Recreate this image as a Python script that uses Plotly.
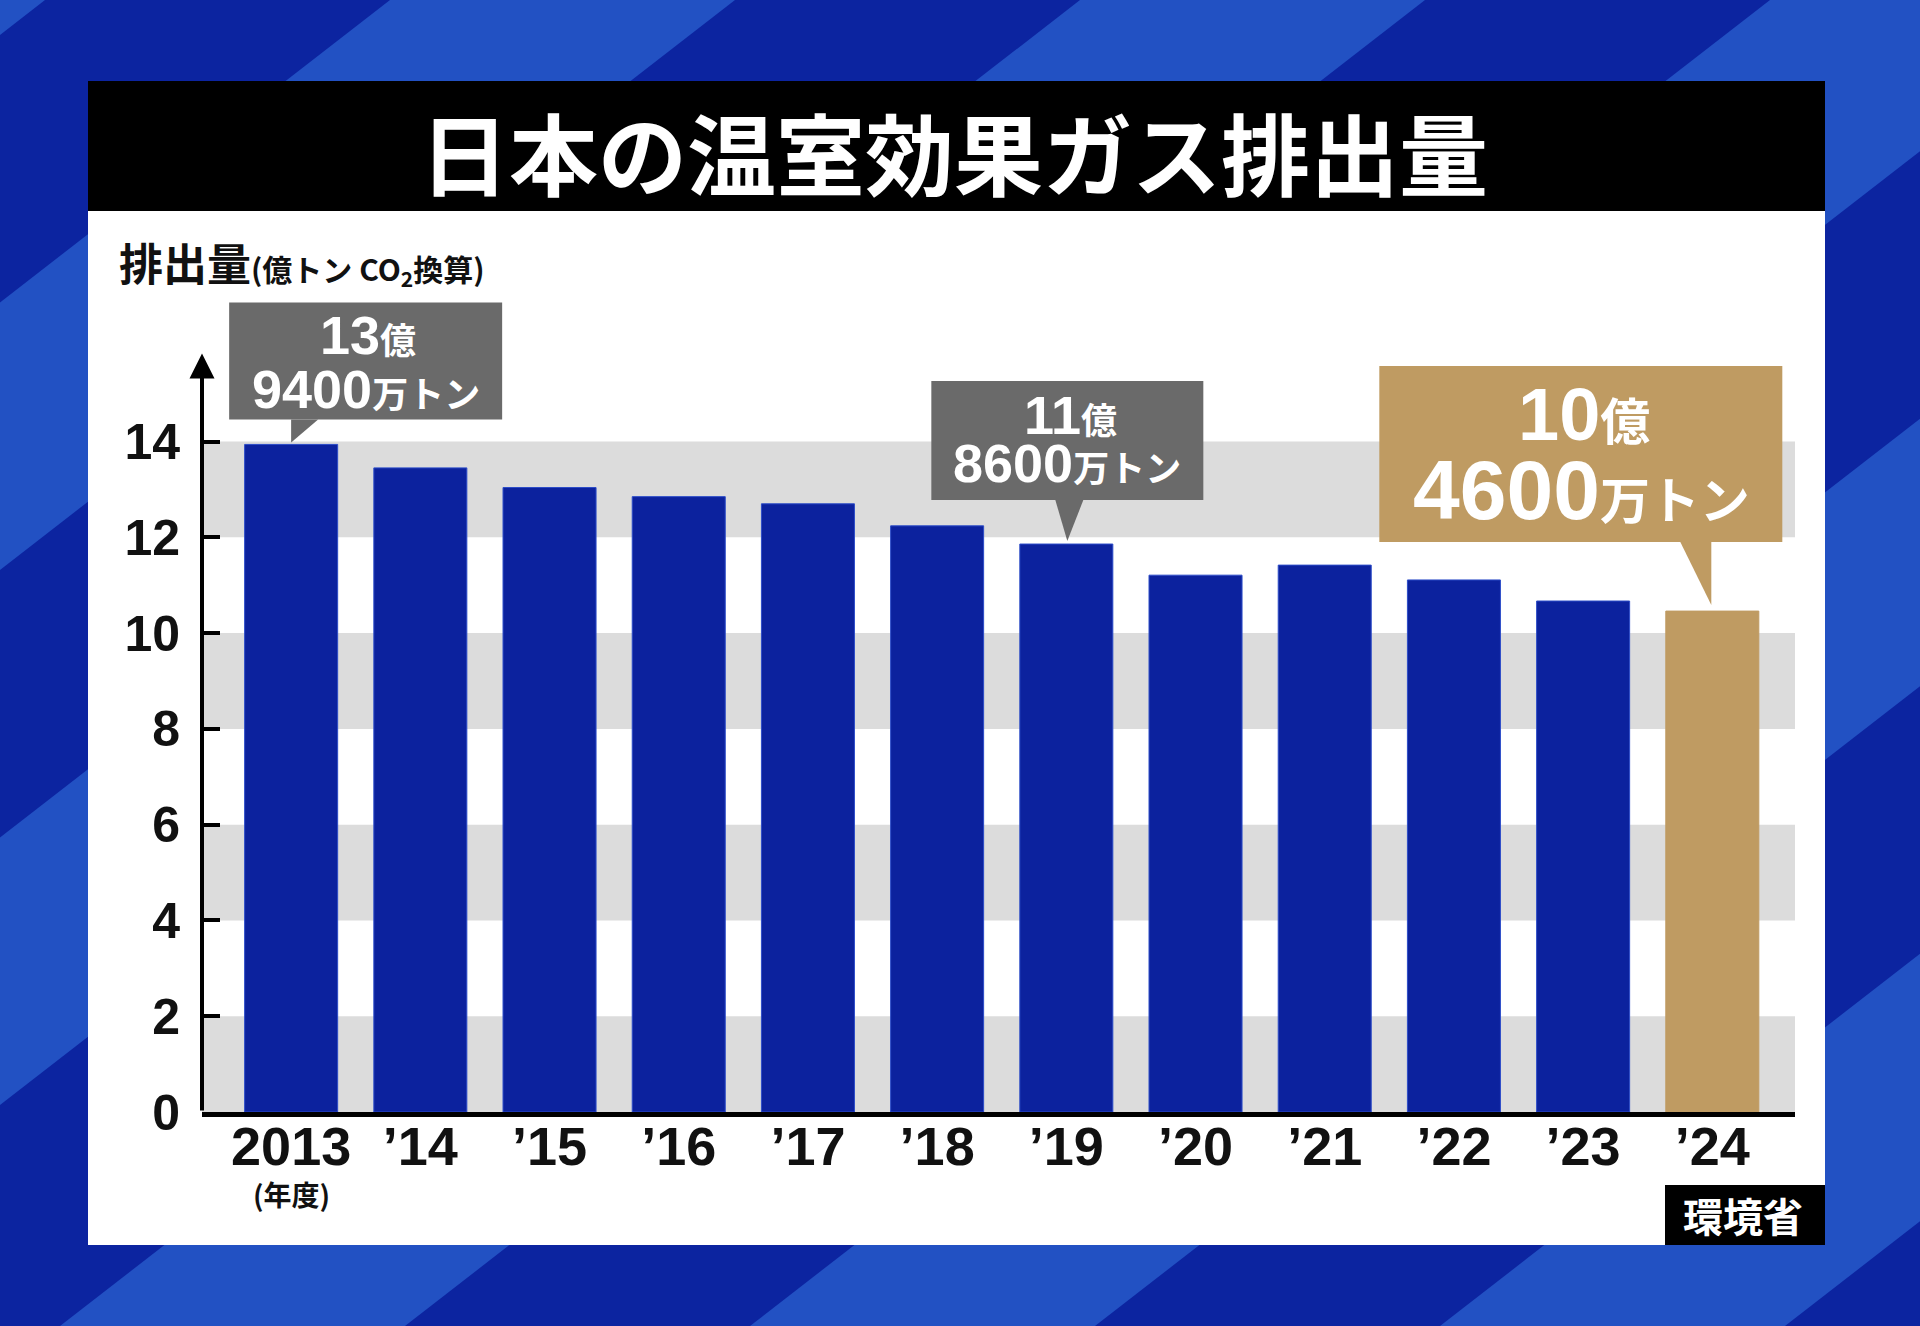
import plotly.graph_objects as go

# 日本の温室効果ガス排出量 (億トン CO2換算), 環境省
years = [2013, 2014, 2015, 2016, 2017, 2018, 2019, 2020, 2021, 2022, 2023, 2024]
emissions = [13.94, 13.45, 13.04, 12.85, 12.70, 12.24, 11.86, 11.21, 11.42, 11.11, 10.67, 10.46]
tick_text = ["2013", "’14", "’15", "’16", "’17", "’18", "’19", "’20", "’21", "’22", "’23", "’24"]
y_ticks = [0, 2, 4, 6, 8, 10, 12, 14]

callout_years = [2013, 2019, 2024]
callout_oku = ["13", "11", "10"]
callout_man = ["9400", "8600", "4600"]

W, H = 1920, 1326
FONT = "Liberation Sans, Noto Sans CJK JP"
JP = "Noto Sans CJK JP"
BLUE = "#0c229e"
GOLD = "#bf9b62"
GRAY = "#6a6a6a"
DARK_BG = "#0c24a0"
LIGHT_BG = "#2251c3"


def px(x):
    return x / W


def py(y):
    return 1 - y / H


shapes = []

# diagonal background stripes
period = 345
shift = 1710
x_top0 = 45
for k in range(-3, 16, 2):
    a = x_top0 + period * k
    b = a + period
    path = "M{},{} L{},{} L{},{} L{},{} Z".format(
        px(a), 1, px(b), 1, px(b - shift), 0, px(a - shift), 0)
    shapes.append(dict(type="path", path=path, xref="paper", yref="paper",
                       fillcolor=LIGHT_BG, line=dict(width=0), layer="below"))

# white panel, title bar, source box
shapes.append(dict(type="rect", xref="paper", yref="paper", x0=px(88), x1=px(1825),
                   y0=py(1245), y1=py(81), fillcolor="white", line=dict(width=0), layer="below"))
shapes.append(dict(type="rect", xref="paper", yref="paper", x0=px(88), x1=px(1825),
                   y0=py(211), y1=py(81), fillcolor="black", line=dict(width=0), layer="below"))
shapes.append(dict(type="rect", xref="paper", yref="paper", x0=px(1665), x1=px(1825),
                   y0=py(1245), y1=py(1185), fillcolor="black", line=dict(width=0), layer="above"))

# alternating gray bands
for t in y_ticks[::2]:
    shapes.append(dict(type="rect", xref="x domain", yref="y", x0=0, x1=1, y0=t, y1=t + 2,
                       fillcolor="#dcdcdc", line=dict(width=0), layer="below"))

# callout boxes (pixel offsets from bar top)
callout_style = [
    dict(box=(-62, 211, 25, 142), tri=[(0, 25), (27, 25), (0, 2)], color=GRAY,
         big=(54, 54), small=36, l1=(77, 109), l2=(75, 55)),
    dict(box=(-135, 137, 44, 163), tri=[(-11, 44), (17, 44), (1, 3)], color=GRAY,
         big=(54, 54), small=36, l1=(4, 129), l2=(1, 81)),
    dict(box=(-333, 70, 69, 245), tri=[(-32, 69), (-1, 69), (-1, 6)], color=GOLD,
         big=(74, 84), small=50, l1=(-128, 197), l2=(-131, 121)),
]

fig = go.Figure()
fig.add_trace(go.Bar(
    x=years, y=emissions, width=0.72,
    marker=dict(color=[BLUE] * (len(years) - 1) + [GOLD],
                line=dict(color=["#2c4cc8"] * (len(years) - 1) + [GOLD], width=1)),
    hoverinfo="x+y",
))

annotations = []
for yr, oku, man, st in zip(callout_years, callout_oku, callout_man, callout_style):
    val = emissions[years.index(yr)]
    x0, x1, y0, y1 = st["box"]
    shapes.append(dict(type="rect", xref="x", yref="y", xsizemode="pixel", ysizemode="pixel",
                       xanchor=yr, yanchor=val, x0=x0, x1=x1, y0=y0, y1=y1,
                       fillcolor=st["color"], line=dict(width=0), layer="above"))
    p = st["tri"]
    shapes.append(dict(type="path", xref="x", yref="y", xsizemode="pixel", ysizemode="pixel",
                       xanchor=yr, yanchor=val,
                       path="M{},{} L{},{} L{},{} Z".format(p[0][0], p[0][1], p[1][0], p[1][1], p[2][0], p[2][1]),
                       fillcolor=st["color"], line=dict(width=0), layer="above"))
    sm = st["small"]
    annotations.append(dict(
        x=yr, y=val, xshift=st["l1"][0], yshift=st["l1"][1], showarrow=False,
        xanchor="center", yanchor="middle",
        text="{}<span style='font-size:{}px'>億</span>".format(oku, sm),
        font=dict(family=FONT, size=st["big"][0], color="white", weight="bold")))
    annotations.append(dict(
        x=yr, y=val, xshift=st["l2"][0], yshift=st["l2"][1], showarrow=False,
        xanchor="center", yanchor="middle",
        text="{}<span style='font-size:{}px'>万トン</span>".format(man, sm),
        font=dict(family=FONT, size=st["big"][1], color="white", weight="bold")))

# y axis with arrow
annotations.append(dict(xref="x domain", yref="y", x=0, y=15.84, ax=0, ay=0, axref="pixel", ayref="y",
                        text="", showarrow=True, arrowhead=2, arrowsize=1.25, arrowwidth=4,
                        arrowcolor="black"))

annotations += [
    dict(xref="paper", yref="paper", x=px(954), y=py(150), xanchor="center", yanchor="middle",
         showarrow=False, text="日本の温室効果ガス排出量",
         font=dict(family=JP, size=89, color="white", weight="bold")),
    dict(xref="paper", yref="paper", x=px(117), y=py(262), xanchor="left", yanchor="middle",
         showarrow=False,
         text="排出量<span style='font-size:30px'>(億トン CO<sub>2</sub>換算)</span>",
         font=dict(family=JP, size=44, color="#111111", weight="bold")),
    dict(x=years[0], y=0, yshift=-82, xanchor="center", yanchor="middle", showarrow=False,
         text="(年度)", font=dict(family=JP, size=28, color="#111111", weight="bold")),
    dict(xref="paper", yref="paper", x=px(1743), y=py(1215), xanchor="center", yanchor="middle",
         showarrow=False, text="環境省",
         font=dict(family=JP, size=40, color="white", weight="bold")),
]

fig.update_layout(
    width=W, height=H,
    margin=dict(l=0, r=0, t=0, b=0, autoexpand=False),
    paper_bgcolor=DARK_BG,
    plot_bgcolor="rgba(0,0,0,0)",
    showlegend=False,
    shapes=shapes,
    annotations=annotations,
    xaxis=dict(domain=[px(202), px(1795)], range=[2012.31, 2024.64], automargin=False,
               tickvals=years, ticktext=tick_text, showgrid=False, zeroline=False,
               showline=True, linewidth=5, linecolor="black", ticks="",
               ticklabelstandoff=-17,
               tickfont=dict(family=FONT, size=54, color="#111111", weight="bold")),
    yaxis=dict(domain=[1 - 1112 / H, 1 - 250 / H], range=[0, 18], automargin=False,
               tickvals=y_ticks, showgrid=False, zeroline=False, showline=False,
               ticks="inside", ticklen=18, tickwidth=4, tickcolor="black",
               ticklabelstandoff=21,
               tickfont=dict(family=FONT, size=50, color="#111111", weight="bold")),
)

fig.write_html("out.html", config={"displayModeBar": False},
               post_script="document.body.style.margin='0';")
